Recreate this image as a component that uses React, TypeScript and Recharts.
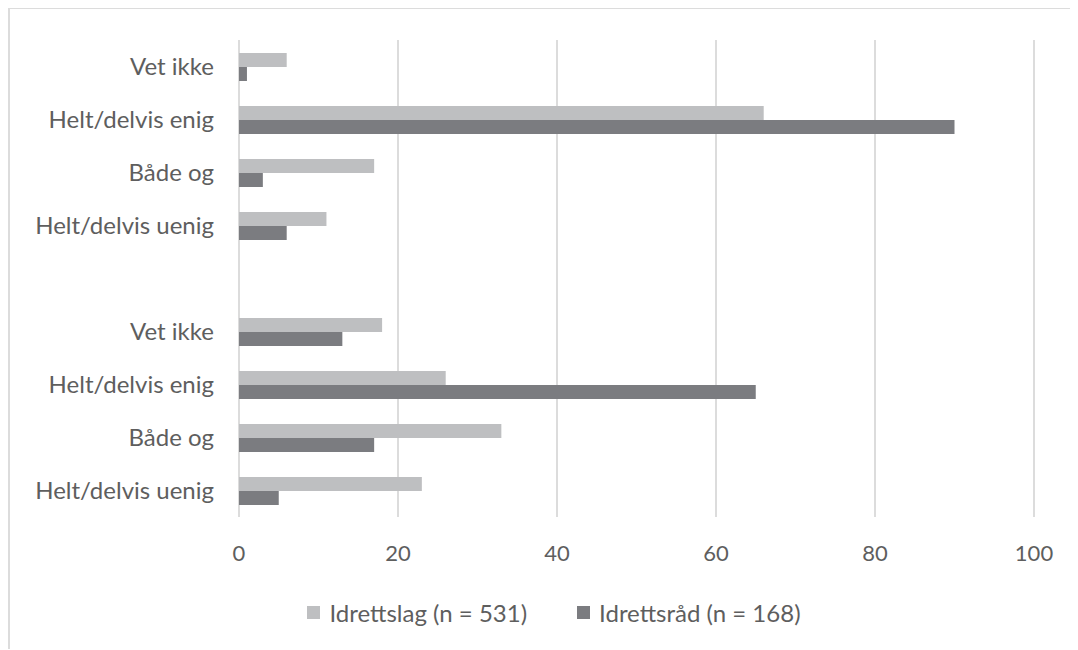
import React from "react";
import {
  BarChart, Bar, XAxis, YAxis, CartesianGrid, Legend,
} from "recharts";

// top to bottom; the empty label is the spacer row between the two blocks
const categories = [
  "Vet ikke", "Helt/delvis enig", "Både og", "Helt/delvis uenig",
  "",
  "Vet ikke", "Helt/delvis enig", "Både og", "Helt/delvis uenig",
];
const idrettslag = [6, 66, 17, 11, null, 18, 26, 33, 23];
const idrettsrad = [1, 90, 3, 6, null, 13, 65, 17, 5];
const xTicks = [0, 20, 40, 60, 80, 100];

const SERIES = [
  { key: "lag", name: "Idrettslag (n = 531)", color: "#BEBFC1" },
  { key: "rad", name: "Idrettsråd (n = 168)", color: "#7B7C80" },
];

const TEXT = "#5E5E5E";
const FONT = "Lato, 'Open Sans', sans-serif";

const data = categories.map((label, i) => ({
  id: `c${i}`,
  label,
  lag: idrettslag[i],
  rad: idrettsrad[i],
}));

function LegendRow({ payload }: any) {
  return (
    <div
      style={{
        height: 30,
        display: "flex",
        justifyContent: "center",
        alignItems: "center",
        paddingLeft: 20,
        fontFamily: FONT,
        fontSize: 24,
        color: TEXT,
      }}
    >
      {(payload || []).map((p: any, i: number) => (
        <div
          key={p.value}
          style={{ display: "flex", alignItems: "center", marginLeft: i > 0 ? 50 : 0 }}
        >
          <span style={{ width: 13, height: 13, background: p.color, marginRight: 9 }} />
          <span>{p.value}</span>
        </div>
      ))}
    </div>
  );
}

export default function App() {
  return (
    <div
      style={{
        width: 1070,
        height: 642,
        borderTop: "2px solid #DCDCDC",
        borderLeft: "2px solid #DCDCDC",
        boxSizing: "border-box",
        fontFamily: FONT,
        marginTop: -1,
      }}
    >
      <BarChart
        width={1068}
        height={640}
        data={data}
        layout="vertical"
        barSize={14}
        barGap={0}
        margin={{ top: 31, right: 44, left: 0, bottom: 22 }}
      >
        <CartesianGrid horizontal={false} stroke="#DCDCDC" strokeWidth={2} />
        <XAxis
          type="number"
          domain={[0, 100]}
          ticks={xTicks}
          axisLine={false}
          tickLine={false}
          tickSize={0}
          tickMargin={28}
          height={80}
          tick={{ fill: TEXT, fontSize: 22, fontFamily: FONT }}
        />
        <YAxis
          type="category"
          dataKey="id"
          width={229}
          axisLine={false}
          tickLine={false}
          tickSize={0}
          tickMargin={25}
          interval={0}
          tickFormatter={(v: string) => data.find((d) => d.id === v)?.label ?? ""}
          tick={{ fill: TEXT, fontSize: 24, fontFamily: FONT }}
        />
        <Legend
          verticalAlign="bottom"
          content={<LegendRow />}
          wrapperStyle={{ left: 0, width: 1068 }}
        />
        {SERIES.map((s) => (
          <Bar
            key={s.key}
            dataKey={s.key}
            name={s.name}
            fill={s.color}
            isAnimationActive={false}
          />
        ))}
      </BarChart>
    </div>
  );
}
